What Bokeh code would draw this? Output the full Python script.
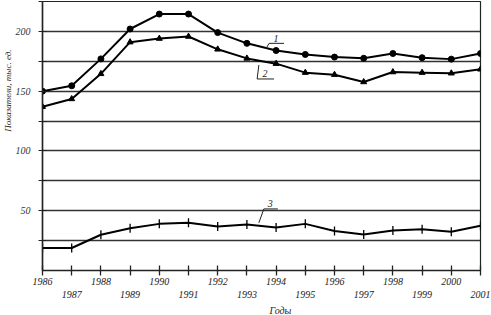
import numpy as np
from bokeh.plotting import figure
from bokeh.models import (ColumnDataSource, FixedTicker, Label, Range1d, Title)
from bokeh.embed import file_html
from bokeh.resources import INLINE

years = list(range(1986, 2002))
series1 = [150, 154.5, 177, 202, 214.5, 214.5, 199, 190, 184, 180.7, 178.5, 177.5, 181.5, 178, 176.8, 181.5]
series2 = [137, 143.5, 164.5, 191, 194, 195.7, 185, 177.4, 173, 165.5, 163.8, 157.7, 166, 165.5, 165, 168.3]
series3 = [18.8, 18.8, 29.9, 35.4, 39, 40, 36.8, 38.5, 36, 39, 33, 30.2, 33.5, 34.6, 32.4, 37.4]
y_ticks = [50, 100, 150, 200]
y_minor = [25, 75, 125, 175, 225]
y_title = "Показатели, тыс. ед."
x_title = "Годы"

FONT = "Liberation Serif"

p = figure(width=491, height=315, output_backend="svg", toolbar_location=None,
           x_range=Range1d(1986, 2001), y_range=Range1d(0, 225),
           min_border_left=41, min_border_right=11, min_border_top=1, min_border_bottom=2)
p.outline_line_color = "#222222"
p.outline_line_width = 1.2
p.background_fill_color = "white"

# axes
p.xaxis.ticker = FixedTicker(ticks=years)
p.xaxis.major_label_overrides = {y: (str(y) if y % 2 == 0 else "\n" + str(y)) for y in years}
p.xaxis.major_label_text_font = FONT
p.xaxis.major_label_text_font_style = "italic"
p.xaxis.major_label_text_font_size = "10px"
p.xaxis.major_label_text_color = "#222222"
p.xaxis.major_label_standoff = 0
p.xaxis.major_tick_in = 5
p.xaxis.major_tick_out = 5
p.xaxis.minor_tick_line_color = None
p.xaxis.axis_line_width = 1.5
p.xaxis.major_tick_line_width = 1.3
p.xaxis.axis_line_color = "#222222"
p.xaxis.major_tick_line_color = "#222222"

p.yaxis.ticker = FixedTicker(ticks=y_ticks, minor_ticks=y_minor)
p.yaxis.major_label_text_font = FONT
p.yaxis.major_label_text_font_style = "italic"
p.yaxis.major_label_text_font_size = "10px"
p.yaxis.major_label_text_color = "#333333"
p.yaxis.major_label_standoff = 8
p.yaxis.major_tick_in = 4
p.yaxis.major_tick_out = 4
p.yaxis.minor_tick_in = 4
p.yaxis.minor_tick_out = 4
p.yaxis.axis_line_width = 1.5
p.yaxis.axis_line_color = "#222222"
p.yaxis.major_tick_line_color = "#222222"
p.yaxis.minor_tick_line_color = "#222222"

p.xgrid.grid_line_color = None
p.ygrid.grid_line_color = "#333333"
p.ygrid.grid_line_width = 1.3
p.ygrid.minor_grid_line_color = "#333333"
p.ygrid.minor_grid_line_width = 1.3

src = ColumnDataSource(dict(x=years, s1=series1, s2=series2, s3=series3))

p.line("x", "s1", source=src, line_color="black", line_width=2)
p.scatter("x", "s1", source=src, marker="circle", size=6, color="black")
p.line("x", "s2", source=src, line_color="black", line_width=2)
p.scatter("x", "s2", source=src, marker="triangle", size=6, color="black")
p.line("x", "s3", source=src, line_color="black", line_width=2)
p.scatter("x", "s3", source=src, marker="dash", angle=np.pi / 2, size=9,
          line_color="black", line_width=1.3)

# callout leaders
p.line([1993.65, 1993.76, 1994.27], [185.5, 190, 190], line_color="#222222", line_width=1)
p.line([1993.41, 1993.35, 1993.93], [171.9, 160.2, 160.2], line_color="#222222", line_width=1)
p.line([1993.41, 1993.58, 1994.06], [39.9, 51.5, 51.5], line_color="#222222", line_width=1)

for txt, xx, yy in [("1", 1994.0, 191.5), ("2", 1993.62, 161.5), ("3", 1993.8, 53)]:
    p.add_layout(Label(x=xx, y=yy, text=txt, text_font=FONT, text_font_style="italic",
                       text_font_size="10px", text_align="center", text_baseline="bottom",
                       text_color="#222222"))

p.add_layout(Title(text=x_title, align="left", offset=227, text_font=FONT,
                   text_font_style="italic", text_font_size="10px",
                   text_color="#222222", standoff=0), "below")
p.add_layout(Title(text=y_title, align="right", offset=48, text_font=FONT,
                   text_font_style="italic", text_font_size="9px",
                   text_color="#222222", standoff=0), "left")

open("out.html", "w").write(file_html(p, INLINE))
